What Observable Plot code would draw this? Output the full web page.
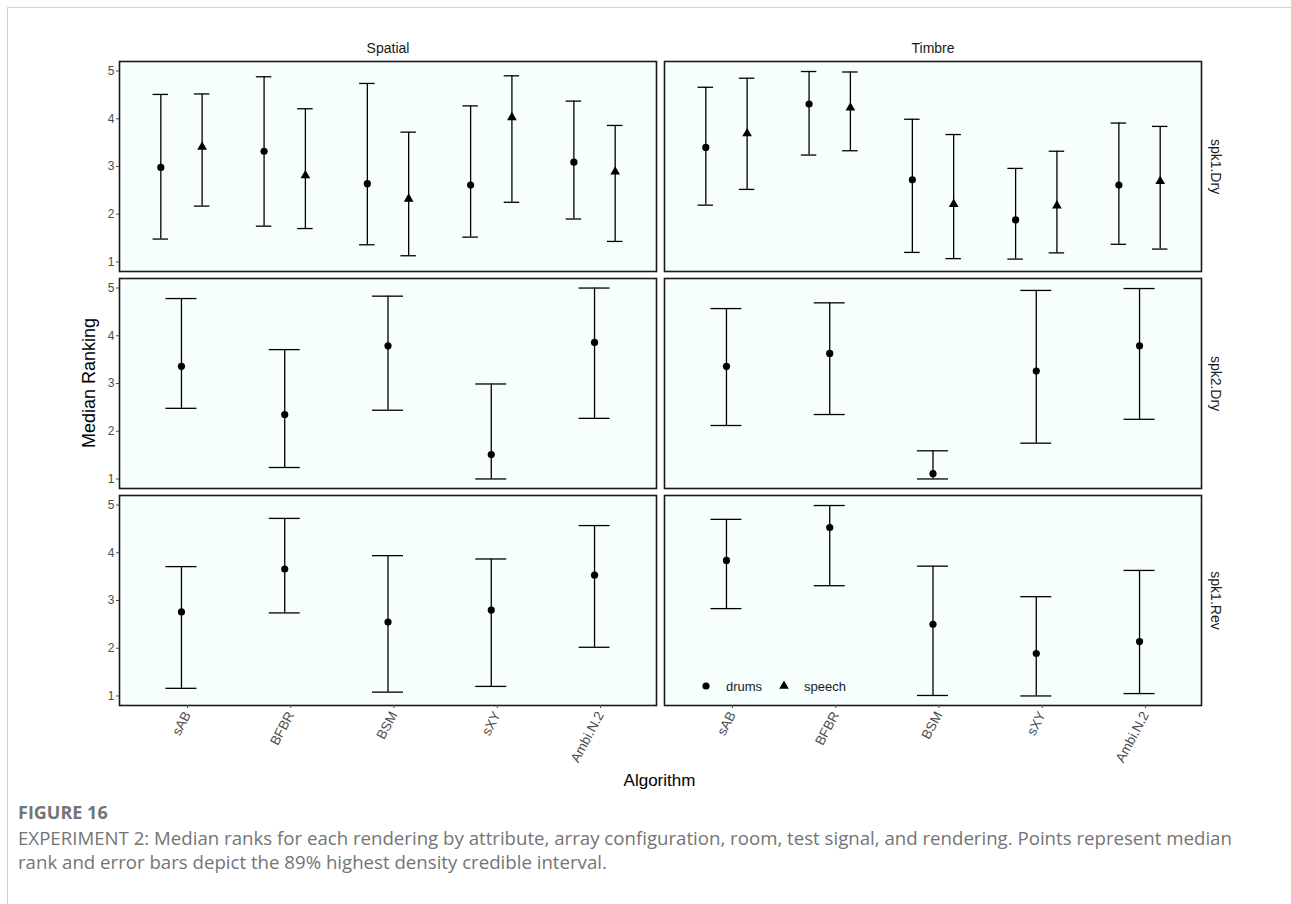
<!DOCTYPE html>
<html>
<head>
<meta charset="utf-8">
<script src="https://cdn.jsdelivr.net/npm/d3@7"></script>
<script src="https://cdn.jsdelivr.net/npm/@observablehq/plot@0.6"></script>
<style>
  body { margin: 0; background: #fff; }
  #page { position: relative; width: 1291px; height: 904px; overflow: hidden; background: #fff; }
  #edge { position: absolute; left: 7px; top: 7px; right: -10px; bottom: -10px;
          border-left: 1px solid #d4d4d4; border-top: 1px solid #d4d4d4; }
  #chart { position: absolute; left: 0; top: 0; }
  #caption { position: absolute; left: 18px; top: 800px; font-family: "Open Sans", sans-serif; color: #747474; }
  #caption .fig { font-weight: 700; font-size: 18px; line-height: 24px; }
  #caption .line { font-size: 18.65px; line-height: 24px; white-space: nowrap; }
  #caption .first { margin-top: 2px; }
</style>
</head>
<body>
<div id="page">
  <div id="edge"></div>
  <div id="chart"></div>
  <div id="caption">
    <div class="fig">FIGURE 16</div>
    <div class="line first">EXPERIMENT 2: Median ranks for each rendering by attribute, array configuration, room, test signal, and rendering. Points represent median</div>
    <div class="line">rank and error bars depict the 89% highest density credible interval.</div>
  </div>
</div>
<script>
// Facet and category levels
const attributes = ["Spatial", "Timbre"];
const conditions = ["spk1.Dry", "spk2.Dry", "spk1.Rev"];
const algorithms = ["sAB", "BFBR", "BSM", "sXY", "Ambi.N.2"];
const signals = ["drums", "speech"];
const yTicks = [1, 2, 3, 4, 5];

// [median, lower 89% HDI, upper 89% HDI] for each algorithm, in the order above
const spatial_spk1Dry_drums  = [[2.98, 1.48, 4.51], [3.32, 1.75, 4.88], [2.64, 1.36, 4.74], [2.61, 1.52, 4.27], [3.09, 1.90, 4.37]];
const spatial_spk1Dry_speech = [[3.41, 2.17, 4.52], [2.81, 1.70, 4.21], [2.32, 1.13, 3.72], [4.03, 2.25, 4.90], [2.89, 1.43, 3.86]];
const timbre_spk1Dry_drums   = [[3.40, 2.19, 4.66], [4.31, 3.24, 4.99], [2.72, 1.20, 3.99], [1.88, 1.06, 2.96], [2.61, 1.37, 3.91]];
const timbre_spk1Dry_speech  = [[3.69, 2.52, 4.85], [4.23, 3.33, 4.98], [2.21, 1.07, 3.67], [2.18, 1.19, 3.32], [2.69, 1.27, 3.84]];
const spatial_spk2Dry_drums  = [[3.36, 2.48, 4.78], [2.35, 1.24, 3.71], [3.79, 2.44, 4.83], [1.51, 1.00, 2.99], [3.86, 2.27, 5.00]];
const timbre_spk2Dry_drums   = [[3.36, 2.12, 4.57], [3.63, 2.35, 4.69], [1.11, 1.00, 1.59], [3.26, 1.75, 4.95], [3.79, 2.25, 4.99]];
const spatial_spk1Rev_drums  = [[2.76, 1.16, 3.71], [3.66, 2.74, 4.72], [2.55, 1.08, 3.94], [2.80, 1.20, 3.87], [3.53, 2.02, 4.57]];
const timbre_spk1Rev_drums   = [[3.84, 2.83, 4.70], [4.53, 3.31, 4.99], [2.50, 1.01, 3.72], [1.89, 1.00, 3.08], [2.14, 1.05, 3.63]];

const groups = [
  ["Spatial", "spk1.Dry", "drums", spatial_spk1Dry_drums],
  ["Spatial", "spk1.Dry", "speech", spatial_spk1Dry_speech],
  ["Timbre", "spk1.Dry", "drums", timbre_spk1Dry_drums],
  ["Timbre", "spk1.Dry", "speech", timbre_spk1Dry_speech],
  ["Spatial", "spk2.Dry", "drums", spatial_spk2Dry_drums],
  ["Timbre", "spk2.Dry", "drums", timbre_spk2Dry_drums],
  ["Spatial", "spk1.Rev", "drums", spatial_spk1Rev_drums],
  ["Timbre", "spk1.Rev", "drums", timbre_spk1Rev_drums]
];

// Dodge the two signals side by side when a panel holds both
const dodgeWidth = 0.4;
const barWidth = 0.3;
const rows = [];
for (const [attribute, condition, signal, series] of groups) {
  const n = groups.filter(g => g[0] === attribute && g[1] === condition).length;
  const k = signals.indexOf(signal);
  series.forEach(([median, lower, upper], i) => {
    const offset = n > 1 ? (k - (n - 1) / 2) * dodgeWidth : 0;
    rows.push({
      attribute, condition, signal,
      algorithm: algorithms[i],
      pos: i + 1 + offset,
      half: barWidth / n / 2,
      median, lower, upper
    });
  });
}

const facet = {fx: "attribute", fy: "condition"};

const chart = Plot.plot({
  width: 1291,
  height: 800,
  marginTop: 60,
  marginLeft: 118,
  marginRight: 90,
  marginBottom: 94,
  style: {fontFamily: "'Liberation Sans', Arial, sans-serif", fontSize: "12px", background: "transparent"},
  fx: {domain: attributes, paddingInner: 0.015, paddingOuter: 0},
  fy: {domain: conditions, paddingInner: 0.032, paddingOuter: 0},
  x: {domain: [0.4, 5.6]},
  y: {domain: [0.8, 5.2]},
  marks: [
    Plot.frame({fill: "#f6fefe", stroke: "#1a1a1a", strokeWidth: 1.6}),
    Plot.ruleX(rows, {...facet, x: "pos", y1: "lower", y2: "upper", stroke: "black", strokeWidth: 1.3}),
    Plot.ruleY(rows, {...facet, y: "lower", x1: d => d.pos - d.half, x2: d => d.pos + d.half, stroke: "black", strokeWidth: 1.3}),
    Plot.ruleY(rows, {...facet, y: "upper", x1: d => d.pos - d.half, x2: d => d.pos + d.half, stroke: "black", strokeWidth: 1.3}),
    Plot.dot(rows.filter(d => d.signal === "drums"), {...facet, x: "pos", y: "median", symbol: "circle", r: 3.6, fill: "black", stroke: null}),
    Plot.dot(rows.filter(d => d.signal === "speech"), {...facet, x: "pos", y: "median", symbol: "triangle", r: 3.6, fill: "black", stroke: null}),
    Plot.axisX({ticks: [1, 2, 3, 4, 5], tickFormat: d => algorithms[d - 1], tickRotate: -62, tickSize: 3, tickPadding: 4, dx: 6, fontSize: 13.5, color: "#4d4d4d", label: null}),
    Plot.axisY({ticks: yTicks, tickFormat: d => String(d), tickSize: 3, tickPadding: 2, fontSize: 12, color: "#4d4d4d", label: null}),
    Plot.axisFx({anchor: "top", tickSize: 0, tickPadding: 9, fontSize: 14, color: "#1a1a1a", label: null}),
    Plot.axisFy({anchor: "right", tickSize: 0, tickPadding: 9, tickRotate: 90, dx: 10, fontSize: 14, color: "#1a1a1a", label: null})
  ]
});

document.getElementById("chart").appendChild(chart);

// Axis titles and the legend inside the lower-right panel
const svg = d3.select(chart);
const font = "'Liberation Sans', Arial, sans-serif";
svg.append("text")
  .attr("transform", "translate(95,383) rotate(-90)")
  .attr("text-anchor", "middle")
  .attr("font-family", font).attr("font-size", 18).attr("fill", "black")
  .text("Median Ranking");
svg.append("text")
  .attr("x", 659.5).attr("y", 786)
  .attr("text-anchor", "middle")
  .attr("font-family", font).attr("font-size", 17).attr("fill", "black")
  .text("Algorithm");

const legend = svg.append("g").attr("transform", "translate(706,686)")
  .attr("font-family", font).attr("font-size", 13).attr("fill", "#1a1a1a");
signals.forEach((s, i) => {
  const g = legend.append("g").attr("transform", `translate(${i * 78},0)`);
  g.append("path")
    .attr("d", d3.symbol(i === 0 ? d3.symbolCircle : d3.symbolTriangle, Math.PI * 3.6 * 3.6)())
    .attr("fill", "black");
  g.append("text").attr("x", 20).attr("dy", "0.35em").attr("text-anchor", "start").text(s);
});
</script>
</body>
</html>
